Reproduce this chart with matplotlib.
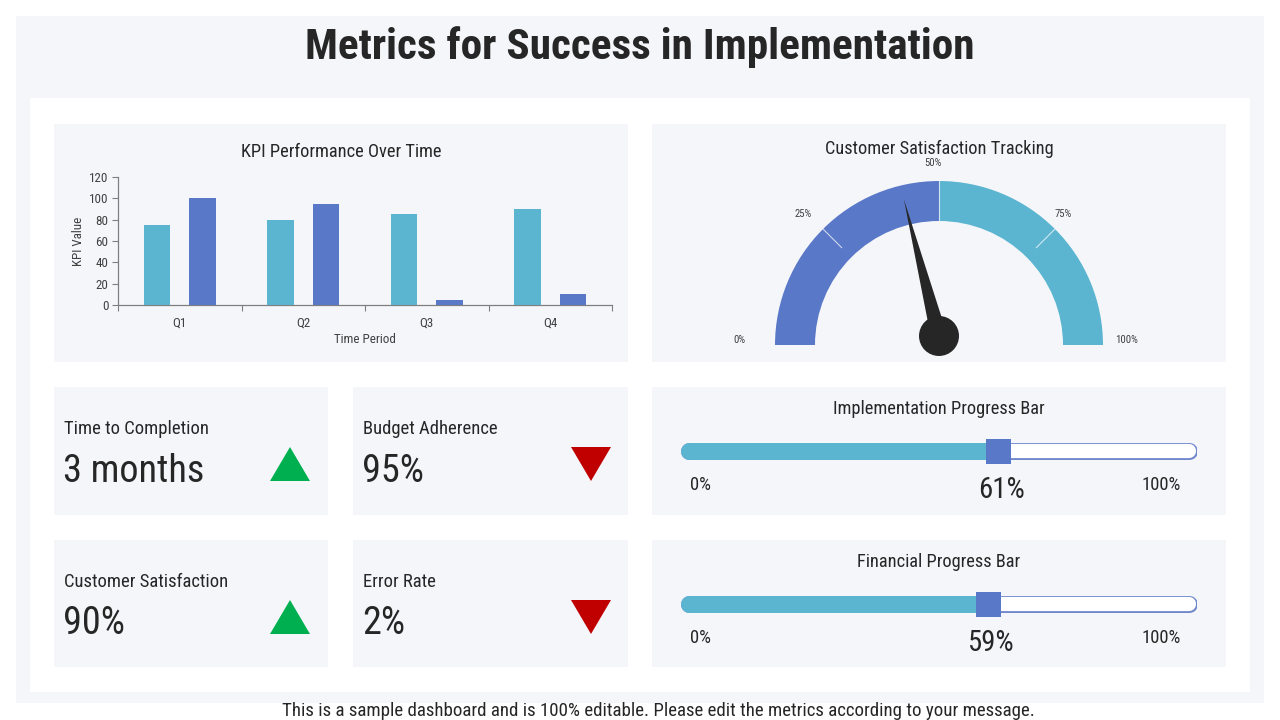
import matplotlib
matplotlib.use("Agg")
import matplotlib.pyplot as plt
from matplotlib import font_manager as fm
from matplotlib.patches import Rectangle, Wedge, Polygon, Circle
import numpy as np

# ---------------- data ----------------
quarters = ["Q1", "Q2", "Q3", "Q4"]
kpi_series_a = [75, 80, 85, 90]
kpi_series_b = [100, 95, 5, 10]
y_ticks = [0, 20, 40, 60, 80, 100, 120]

gauge_ticks = [0, 25, 50, 75, 100]
gauge_needle = 42

kpi_titles = ["Time to Completion", "Budget Adherence", "Customer Satisfaction", "Error Rate"]
kpi_values = ["3 months", "95%", "90%", "2%"]
kpi_trend = ["up", "down", "up", "down"]

progress_titles = ["Implementation Progress Bar", "Financial Progress Bar"]
progress_values = [61, 59]

# ---------------- fonts ----------------
_fonts = {}
for f in fm.fontManager.ttflist:
    _fonts.setdefault(f.name, set()).add(f.weight if isinstance(f.weight, int) else 400)
cands = ['Liberation Sans Narrow', 'Arial Narrow', 'Roboto Condensed', 'Archivo Narrow', 'Liberation Sans']
FONT = next((c for c in cands if c in _fonts), 'DejaVu Sans')
bold_cands = [c for c in cands if c in _fonts and any(w >= 700 for w in _fonts[c])]
FONT_BOLD = bold_cands[0] if bold_cands else FONT
plt.rcParams['font.family'] = [FONT, 'Liberation Sans', 'DejaVu Sans']

# ---------------- style ----------------
W, H = 1280, 720
C_CYAN = "#5bb5d0"
C_BLUE = "#5a78c8"
C_PANEL = "#f5f6fa"
C_TEXT = "#262626"
C_GREEN = "#00b050"
C_RED = "#c00000"

fig = plt.figure(figsize=(W / 100, H / 100), dpi=100)
fig.patch.set_facecolor("white")
renderer = fig.canvas.get_renderer()

bg = fig.add_axes([0, 0, 1, 1])
bg.set_xlim(0, W)
bg.set_ylim(H, 0)
bg.axis("off")
bg.set_zorder(0)


def fit_size(s, target_px, **kw):
    t = fig.text(0, 0, s, fontsize=10, **kw)
    w = t.get_window_extent(renderer=renderer).width
    t.remove()
    return 10.0 * target_px / w


def rect(x0, y0, x1, y1, color):
    bg.add_patch(Rectangle((x0, y0), x1 - x0, y1 - y0, facecolor=color, edgecolor="none"))


def px_axes(x0, y0, x1, y1):
    ax = fig.add_axes([x0 / W, 1 - y1 / H, (x1 - x0) / W, (y1 - y0) / H])
    ax.set_zorder(2)
    return ax


# text sizes fitted to the reference widths
S_TITLE = fit_size("Metrics for Success in Implementation", 669, family=[FONT_BOLD], fontweight="bold")
S_FOOT = fit_size("This is a sample dashboard and is 100% editable. Please edit the metrics according to your message.", 749)
S_PANEL = fit_size("Customer Satisfaction Tracking", 228)
S_KPI_T = fit_size("Time to Completion", 144)
S_KPI_V = fit_size("3 months", 141)
S_PCT = fit_size("61%", 46)
S_LBL = fit_size("100%", 39)
F = S_PANEL / 12.0
S_TICK = 8.5 * F
S_GAUGE = 7.0 * F

# outer / inner panels
rect(16, 16, 1264, 703, C_PANEL)
rect(30, 98, 1250, 692, "#ffffff")

cards = [(54, 124, 628, 362), (652, 124, 1226, 362),
         (54, 387, 328, 515), (353, 387, 628, 515), (652, 387, 1226, 515),
         (54, 540, 328, 667), (353, 540, 628, 667), (652, 540, 1226, 667)]
for c in cards:
    rect(*c, C_PANEL)

bg.text(640, 47, "Metrics for Success in Implementation", ha="center", va="center",
        fontsize=S_TITLE, fontweight="bold", family=[FONT_BOLD], color=C_TEXT)
bg.text(658, 711, "This is a sample dashboard and is 100% editable. Please edit the metrics according to your message.",
        ha="center", va="center", fontsize=S_FOOT, color=C_TEXT)

# ---------------- bar chart ----------------
bg.text(341, 152, "KPI Performance Over Time", ha="center", va="center", fontsize=S_PANEL, color=C_TEXT)
ax = px_axes(118, 177, 612, 305)
ax.set_facecolor("none")
x = np.arange(len(quarters))
bw = 0.215
ax.bar(x - 0.185, kpi_series_a, width=bw, color=C_CYAN, zorder=3)
ax.bar(x + 0.185, kpi_series_b, width=bw, color=C_BLUE, zorder=3)
ax.set_xlim(-0.5, len(quarters) - 0.5)
ax.set_ylim(0, 120)
ax.set_yticks(y_ticks)
ax.set_yticklabels([str(v) for v in y_ticks], fontsize=S_TICK, color="#404040")
ax.set_xticks(np.arange(len(quarters) + 1) - 0.5)
ax.set_xticklabels([])
ax.set_xticks(x, minor=True)
ax.set_xticklabels(quarters, minor=True, fontsize=S_TICK, color="#404040")
ax.tick_params(axis="x", which="minor", length=0, pad=8)
ax.tick_params(axis="x", which="major", length=4, color="#7f7f7f", direction="out")
ax.tick_params(axis="y", length=4, color="#7f7f7f", pad=3)
for s in ["top", "right"]:
    ax.spines[s].set_visible(False)
for s in ["left", "bottom"]:
    ax.spines[s].set_color("#7f7f7f")
    ax.spines[s].set_linewidth(0.9)
ax.set_ylabel("KPI Value", fontsize=S_TICK, color="#404040")
ax.yaxis.set_label_coords(-(118 - 78) / 494, 0.5)
ax.set_xlabel("Time Period", fontsize=S_TICK, color="#404040")
ax.xaxis.set_label_coords(0.5, -(339 - 305) / 128)
ax.xaxis.label.set_va("center")
ax.yaxis.label.set_va("center")

# ---------------- gauge ----------------
bg.text(939, 149, "Customer Satisfaction Tracking", ha="center", va="center", fontsize=S_PANEL, color=C_TEXT)
R = 164.0
cx, cy = 939, 345
g = px_axes(652, 124, 1226, 362)
g.set_xlim((652 - cx) / R, (1226 - cx) / R)
g.set_ylim((cy - 362) / R, (cy - 124) / R)
g.axis("off")
ring = 40 / R


def ang(p):
    return 180.0 * (1 - p / 100.0)


g.add_patch(Wedge((0, 0), 1.0, ang(50), ang(0), width=ring, facecolor=C_BLUE, edgecolor="none"))
g.add_patch(Wedge((0, 0), 1.0, ang(100), ang(50), width=ring, facecolor=C_CYAN, edgecolor="none"))
for p in [25, 50, 75]:
    t = np.radians(ang(p))
    r0 = 0.84 if p != 50 else 1 - ring
    g.plot([r0 * np.cos(t), np.cos(t)], [r0 * np.sin(t), np.sin(t)], color="white", lw=0.8, alpha=0.7)
for p in gauge_ticks:
    t = np.radians(ang(p))
    c, s = np.cos(t), np.sin(t)
    rr = 1.11 + 0.07 * abs(c) ** 6
    g.text(-6 / R + rr * c, rr * s + 0.03 * c ** 4, f"{p}%", ha="center", va="center",
           fontsize=S_GAUGE, color="#404040")
px, py = 0.0, 0.055
t = np.radians(ang(gauge_needle))
L = 0.86
tip = (px + L * np.cos(t), py + L * np.sin(t))
nx, ny = -np.sin(t), np.cos(t)
hw = 0.05
g.add_patch(Polygon([tip, (px + hw * nx, py + hw * ny), (px - hw * nx, py - hw * ny)],
                    closed=True, facecolor="#262626", edgecolor="none", zorder=5))
g.add_patch(Circle((px, py), 20 / R, facecolor="#262626", edgecolor="none", zorder=6))

# ---------------- KPI cards ----------------
kpi_boxes = [(54, 387), (353, 387), (54, 540), (353, 540)]
tri_x = [290, 591, 290, 591]
for (bx, by), title, val, trend, tx in zip(kpi_boxes, kpi_titles, kpi_values, kpi_trend, tri_x):
    bg.text(bx + 10, by + 42, title, ha="left", va="center", fontsize=S_KPI_T, color=C_TEXT)
    bg.text(bx + 9, by + 84, val, ha="left", va="center", fontsize=S_KPI_V, color=C_TEXT)
    if trend == "up":
        pts = [(tx - 20, by + 94), (tx + 20, by + 94), (tx, by + 60)]
        col = C_GREEN
    else:
        pts = [(tx - 20, by + 60), (tx + 20, by + 60), (tx, by + 94)]
        col = C_RED
    bg.add_patch(Polygon(pts, closed=True, facecolor=col, edgecolor="none"))

# ---------------- progress bars ----------------
x0p, x1p = 680, 1197
for (bx, by), title, val in zip([(652, 387), (652, 540)], progress_titles, progress_values):
    bg.text(939, by + 22, title, ha="center", va="center", fontsize=S_PANEL, color=C_TEXT)
    yc = by + 64
    pa = px_axes(x0p, by, x1p, by + 128)
    pa.set_xlim(0, 100)
    pa.set_ylim(-(by + 128 - yc), yc - by)
    pa.axis("off")
    cap = 8.5 * 100 / (x1p - x0p)
    lw_out = 17 * 0.72
    pa.plot([cap, 100 - cap], [0, 0], color="#6f88cc", lw=lw_out, solid_capstyle="round")
    pa.plot([cap, 100 - cap], [0, 0], color="white", lw=lw_out - 2.0, solid_capstyle="round")
    pa.plot([cap, val], [0, 0], color=C_CYAN, lw=lw_out, solid_capstyle="round")
    pa.plot([val + 0.5], [0], marker="s", markersize=25 * 0.72, color=C_BLUE, markeredgewidth=0)
    pa.text(4, -34, "0%", ha="center", va="center", fontsize=S_LBL, color=C_TEXT)
    pa.text(93, -34, "100%", ha="center", va="center", fontsize=S_LBL, color=C_TEXT)
    pa.text(val + 1.2, -39, f"{val}%", ha="center", va="center", fontsize=S_PCT, color=C_TEXT)

fig.savefig("out.png", dpi=100, facecolor=fig.get_facecolor())
